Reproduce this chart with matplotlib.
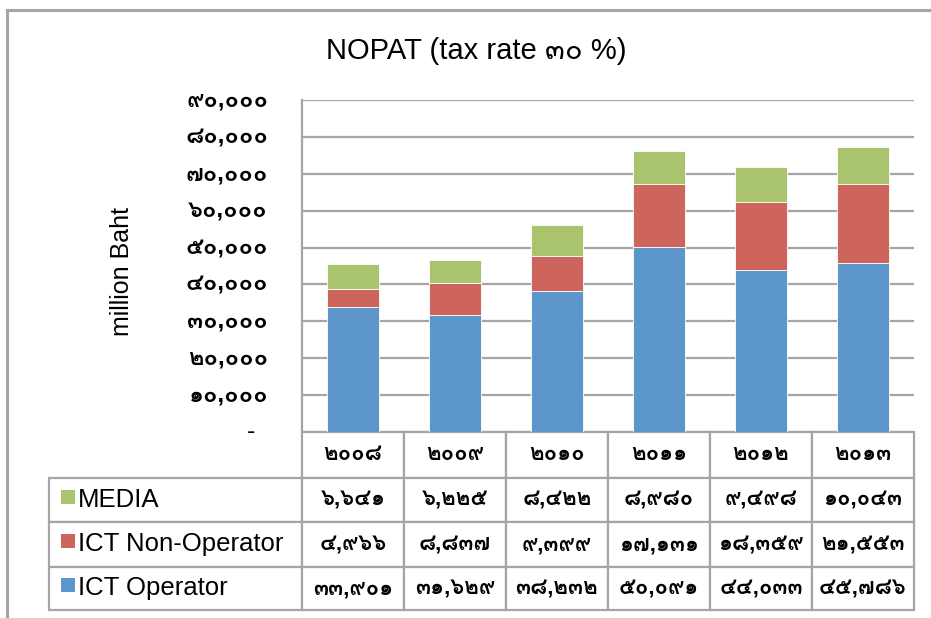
import matplotlib
matplotlib.use("Agg")
import matplotlib.pyplot as plt
from matplotlib import font_manager
from matplotlib.ft2font import FT2Font
from matplotlib.patches import Rectangle
from matplotlib.lines import Line2D
import matplotlib.transforms as mtransforms

years = [2008, 2009, 2010, 2011, 2012, 2013]
series_names = ["MEDIA", "ICT Non-Operator", "ICT Operator"]
media = [6641, 6225, 8422, 8980, 9498, 10043]
ict_non_operator = [4966, 8837, 9399, 17131, 18359, 21553]
ict_operator = [33901, 31629, 38232, 50091, 44033, 45786]
y_ticks = [0, 10000, 20000, 30000, 40000, 50000, 60000, 70000, 80000, 90000]

colors = {"MEDIA": "#A9C46C", "ICT Non-Operator": "#CD655D", "ICT Operator": "#5D96CB"}
grid_gray = "#A5A5A5"

THAI_DIGITS = "๐๑๒๓๔๕๖๗๘๙"


def thai_num(n, comma=True):
    s = f"{n:,}" if comma else str(n)
    return "".join(THAI_DIGITS[int(c)] if c.isdigit() else c for c in s)


def find_thai_font():
    found = []
    for f in font_manager.fontManager.ttflist:
        try:
            if 0x0E51 in FT2Font(f.fname).get_charmap():
                found.append(f)
        except Exception:
            pass
    found.sort(key=lambda f: (f.weight != 400, f.style != "normal"))
    return found[0].name if found else None


thai_font = find_thai_font()
thai = [thai_font] if thai_font else []
families = ["Liberation Sans"] + thai + ["DejaVu Sans"]
plt.rcParams["font.family"] = families

W, H = 931, 618
fig = plt.figure(figsize=(W / 100, H / 100), dpi=100)

# plot area in pixel coords
left, right, top, bottom = 302, 914, 100, 432
ax = fig.add_axes([left / W, 1 - bottom / H, (right - left) / W, (bottom - top) / H])

x = list(range(len(years)))
bw = 0.51
ax.bar(x, ict_operator, bw, color=colors["ICT Operator"], edgecolor="white", linewidth=0.6, zorder=3)
base2 = ict_operator
ax.bar(x, ict_non_operator, bw, bottom=base2, color=colors["ICT Non-Operator"],
       edgecolor="white", linewidth=0.6, zorder=3)
base3 = [a + b for a, b in zip(ict_operator, ict_non_operator)]
ax.bar(x, media, bw, bottom=base3, color=colors["MEDIA"], edgecolor="white", linewidth=0.6, zorder=3)

ax.set_xlim(-0.5, len(years) - 0.5)
ax.set_ylim(0, 90000)
ax.set_yticks(y_ticks)
ax.set_yticklabels([])
ax.set_xticks([])
ax.tick_params(axis="y", length=0)
ax.yaxis.grid(True, color=grid_gray, linewidth=1.6, zorder=0)
for s in ["top", "right", "bottom"]:
    ax.spines[s].set_visible(False)
ax.spines["left"].set_color(grid_gray)
ax.spines["left"].set_linewidth(1.6)

# y tick labels (Thai digits), dash for zero
lab_tr = mtransforms.blended_transform_factory(ax.transAxes, ax.transData)
lab_x = (268 - left) / (right - left)
for v in y_ticks:
    if v == 0:
        ax.text((251 - left) / (right - left), v, "-", transform=lab_tr, ha="center",
                va="center", fontsize=18)
    else:
        ax.text(lab_x, v, thai_num(v), transform=lab_tr, ha="right", va="center",
                fontsize=17, fontweight="bold")

fig.text(122 / W, 1 - 272 / H, "million Baht", rotation=90, ha="center", va="center", fontsize=18)
fig.text(476 / W, 1 - 51 / H, "NOPAT (tax rate " + thai_num(30) + " %)", ha="center",
         va="center", fontsize=21)

# data table below the axes
ax_h = bottom - top
ax_w = right - left
cell_text = [[thai_num(v) for v in media],
             [thai_num(v) for v in ict_non_operator],
             [thai_num(v) for v in ict_operator]]
col_labels = [thai_num(y, comma=False) for y in years]
tbl = ax.table(cellText=cell_text, colLabels=col_labels, rowLabels=series_names,
               cellLoc="center", rowLoc="left",
               bbox=[0, -(610 - bottom) / ax_h, 1, (610 - bottom) / ax_h])
tbl.auto_set_font_size(False)
row_label_w = (left - 53) / ax_w
row_heights = {0: 46, 1: 44, 2: 45, 3: 43}
for (r, c), cell in tbl.get_celld().items():
    cell.set_edgecolor(grid_gray)
    cell.set_linewidth(1.6)
    cell.set_height(row_heights[r] / ax_h)
    cell.get_text().set_fontsize(16)
    cell.get_text().set_fontweight("bold")
    if c == -1:
        cell.set_width(row_label_w)
        cell.get_text().set_fontsize(18.5)
        cell.get_text().set_fontweight("normal")
        cell.PAD = 29 / (left - 53)

# legend keys inside row labels
key_centers = [497, 541, 585]
for name, yc in zip(series_names, key_centers):
    sq = Rectangle(((61 - left) / ax_w, (bottom - yc - 7) / ax_h), 14 / ax_w, 14 / ax_h,
                   transform=ax.transAxes, facecolor=colors[name], edgecolor="none",
                   clip_on=False, zorder=5)
    ax.add_patch(sq)

# outer chart border (top and left)
fig.add_artist(Line2D([7 / W, 1], [1 - 10 / H, 1 - 10 / H], color=grid_gray, linewidth=2.2))
fig.add_artist(Line2D([7 / W, 7 / W], [1 - 10 / H, 0], color=grid_gray, linewidth=2.2))

fig.savefig("out.png", dpi=100)
